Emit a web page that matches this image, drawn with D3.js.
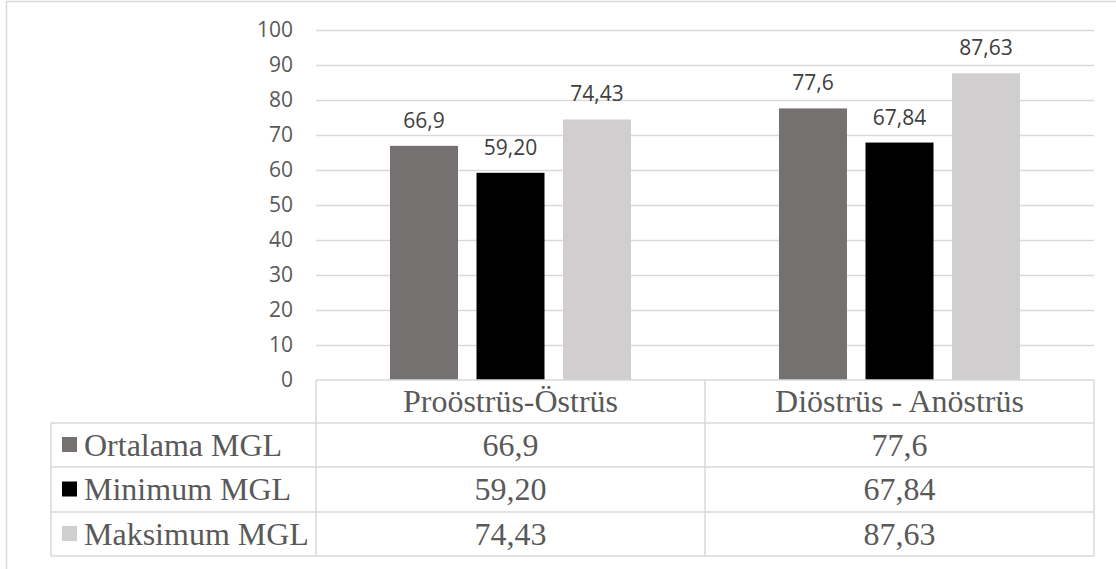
<!DOCTYPE html>
<html>
<head>
<meta charset="utf-8">
<script src="https://cdn.jsdelivr.net/npm/d3@7"></script>
<style>
  html, body { margin: 0; padding: 0; background: #fff; }
  svg { display: block; }
</style>
</head>
<body>
<svg id="chart" width="1116" height="569"></svg>
<script>
// Phase groups along the x axis
const categories = ["Proöstrüs-Östrüs", "Diöstrüs - Anöstrüs"];
// Series names and values (MGL), one entry per category
const seriesNames = ["Ortalama MGL", "Minimum MGL", "Maksimum MGL"];
const ortalama = [66.9, 77.6];
const minimum = [59.20, 67.84];
const maksimum = [74.43, 87.63];
// Labels as printed in the chart
const ortalamaLabels = ["66,9", "77,6"];
const minimumLabels = ["59,20", "67,84"];
const maksimumLabels = ["74,43", "87,63"];
const yTicks = [0, 10, 20, 30, 40, 50, 60, 70, 80, 90, 100];

const seriesValues = [ortalama, minimum, maksimum];
const seriesLabels = [ortalamaLabels, minimumLabels, maksimumLabels];
const colors = ["#767171", "#000000", "#d0cece"];

const svg = d3.select("#chart");
const textColor = "#595959";
const gridColor = "#d9d9d9";
const sans = "'Open Sans', 'Noto Sans', sans-serif";
const serif = "'Liberation Serif', 'Times New Roman', serif";

// Plot area
const plotLeft = 316, plotRight = 1094, plotTop = 30, plotBottom = 380;
const legendLeft = 51;
const rowBounds = [380, 423, 467, 512, 556];

// Outer chart frame (left and top edges visible)
svg.append("line").attr("x1", 6.5).attr("x2", 6.5).attr("y1", 1).attr("y2", 569)
  .attr("stroke", gridColor).attr("stroke-width", 1.5);
svg.append("line").attr("x1", 6).attr("x2", 1116).attr("y1", 1.5).attr("y2", 1.5)
  .attr("stroke", gridColor).attr("stroke-width", 1.5);

const y = d3.scaleLinear().domain([0, 100]).range([plotBottom, plotTop]);
const x0 = d3.scaleBand().domain(categories).range([plotLeft, plotRight]);
const x1 = d3.scaleBand().domain(seriesNames).range([0, x0.bandwidth()])
  .paddingInner(0.214).paddingOuter(0.855);

// Gridlines
svg.append("g").selectAll("line").data(yTicks.filter(t => t > 0)).join("line")
  .attr("x1", plotLeft).attr("x2", plotRight)
  .attr("y1", d => Math.round(y(d)) + 0.5).attr("y2", d => Math.round(y(d)) + 0.5)
  .attr("stroke", gridColor).attr("stroke-width", 1.3);

// Y axis tick labels
const yAxis = d3.axisLeft(y).tickValues(yTicks).tickSize(0).tickPadding(0);
const gy = svg.append("g").attr("transform", `translate(${plotLeft - 23},0)`).call(yAxis);
gy.select(".domain").remove();
gy.selectAll("text").attr("fill", textColor)
  .style("font-family", sans).style("font-size", "21px");

// Bars
const groups = svg.append("g").selectAll("g").data(categories).join("g")
  .attr("transform", d => `translate(${x0(d)},0)`);

seriesNames.forEach((name, si) => {
  groups.append("rect")
    .attr("x", x1(name))
    .attr("width", x1.bandwidth())
    .attr("y", (d, ci) => y(seriesValues[si][ci]))
    .attr("height", (d, ci) => y(0) - y(seriesValues[si][ci]))
    .attr("fill", colors[si]);
  groups.append("text")
    .attr("x", x1(name) + x1.bandwidth() / 2)
    .attr("y", (d, ci) => y(seriesValues[si][ci]) - 18)
    .attr("text-anchor", "middle")
    .attr("fill", "#404040")
    .style("font-family", sans).style("font-size", "21px")
    .text((d, ci) => seriesLabels[si][ci]);
});

// Data table beneath the plot
const table = svg.append("g");
const lineAttr = sel => sel.attr("stroke", gridColor).attr("stroke-width", 1.5).attr("fill", "none");

// Horizontal rules
rowBounds.forEach((ry, i) => {
  table.append("line").attr("x1", i === 0 ? plotLeft : legendLeft).attr("x2", plotRight)
    .attr("y1", ry).attr("y2", ry).call(lineAttr);
});
// Vertical rules
table.append("line").attr("x1", legendLeft).attr("x2", legendLeft)
  .attr("y1", rowBounds[1]).attr("y2", rowBounds[4]).call(lineAttr);
[plotLeft, x0(categories[1]), plotRight].forEach(vx => {
  table.append("line").attr("x1", vx).attr("x2", vx)
    .attr("y1", rowBounds[0]).attr("y2", rowBounds[4]).call(lineAttr);
});

// Category header row
categories.forEach(c => {
  table.append("text")
    .attr("x", x0(c) + x0.bandwidth() / 2)
    .attr("y", (rowBounds[0] + rowBounds[1]) / 2 + 10.5)
    .attr("text-anchor", "middle").attr("fill", textColor)
    .style("font-family", serif).style("font-size", "32px")
    .text(c);
});

// Series rows with legend keys
seriesNames.forEach((name, si) => {
  const cy = (rowBounds[si + 1] + rowBounds[si + 2]) / 2;
  table.append("rect").attr("x", 62).attr("y", cy - 8).attr("width", 15).attr("height", 15)
    .attr("fill", colors[si]);
  table.append("text").attr("x", 84).attr("y", cy + 10.5).attr("fill", textColor)
    .style("font-family", serif).style("font-size", "32px").text(name);
  categories.forEach((c, ci) => {
    table.append("text")
      .attr("x", x0(c) + x0.bandwidth() / 2).attr("y", cy + 10.5)
      .attr("text-anchor", "middle").attr("fill", textColor)
      .style("font-family", serif).style("font-size", "32px")
      .text(seriesLabels[si][ci]);
  });
});
</script>
</body>
</html>
